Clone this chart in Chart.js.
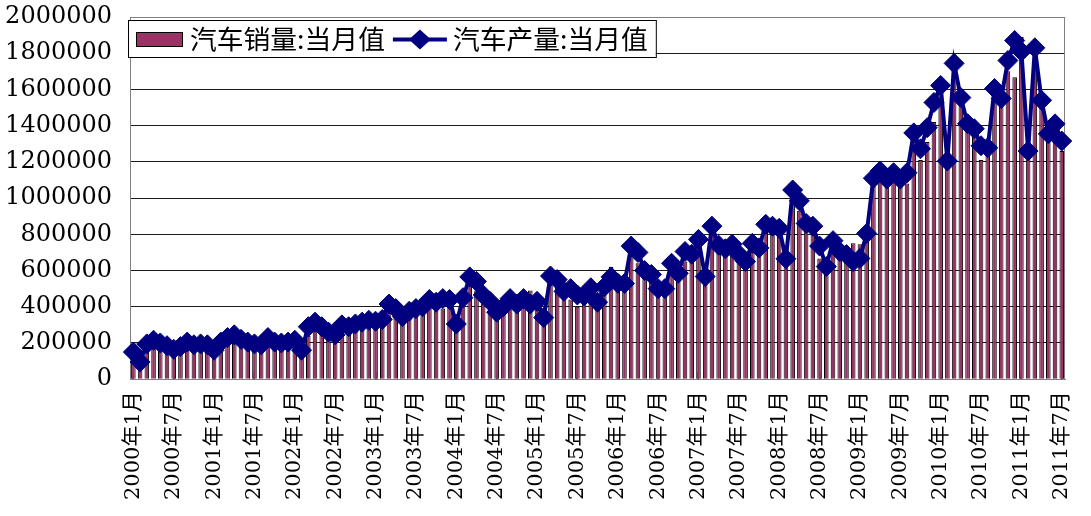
<!DOCTYPE html>
<html>
<head>
<meta charset="utf-8">
<script src="https://cdn.jsdelivr.net/npm/chart.js@4.4.0/dist/chart.umd.min.js"></script>
<style>
  html, body { margin: 0; padding: 0; background: #fff; }
  #wrap { width: 1091px; height: 516px; }
</style>
</head>
<body>
<div id="wrap"><canvas id="autoChart"></canvas></div>
<script>
// categories: monthly, 2000-01 .. 2011-07
const firstYear = 2000;
const lastYear = 2011;
const lastMonth = 7;
const months = [];
for (let y = firstYear; y <= lastYear; y++) {
    for (let m = 1; m <= 12; m++) {
        if (y === lastYear && m > lastMonth) break;
        months.push(y + "年" + m + "月");
    }
}

// 汽车销量:当月值 (bars), one row per year
const salesData = [
    120000, 95000, 170000, 180000, 175000, 160000, 140000, 150000, 175000, 165000, 160000, 175000,
    130000, 170000, 210000, 215000, 195000, 180000, 160000, 170000, 200000, 190000, 185000, 200000,
    190000, 160000, 240000, 270000, 250000, 230000, 215000, 250000, 260000, 265000, 270000, 300000,
    300000, 300000, 380000, 370000, 330000, 340000, 360000, 370000, 400000, 400000, 390000, 410000,
    350000, 420000, 520000, 490000, 430000, 400000, 360000, 360000, 400000, 390000, 420000, 490000,
    420000, 360000, 520000, 510000, 450000, 440000, 400000, 420000, 460000, 430000, 480000, 620000,
    540000, 500000, 680000, 640000, 600000, 560000, 500000, 490000, 600000, 580000, 650000, 700000,
    730000, 560000, 800000, 740000, 700000, 720000, 650000, 650000, 770000, 760000, 830000, 840000,
    850000, 690000, 960000, 930000, 830000, 840000, 667000, 640000, 760000, 720000, 680000, 750000,
    745000, 830000, 1110000, 1150000, 1120000, 1140000, 1080000, 1080000, 1330000, 1210000, 1310000, 1420000,
    1660000, 1300000, 1740000, 1550000, 1420000, 1350000, 1210000, 1300000, 1570000, 1530000, 1700000, 1667000,
    1890000, 1270000, 1740000, 1550000, 1370000, 1390000, 1260000
];

// 汽车产量:当月值 (line), one row per year
const prodData = [
    150000, 95000, 195000, 215000, 200000, 185000, 165000, 180000, 205000, 190000, 195000, 190000,
    160000, 205000, 230000, 245000, 220000, 205000, 195000, 190000, 230000, 205000, 200000, 205000,
    215000, 160000, 290000, 315000, 290000, 260000, 245000, 300000, 290000, 305000, 315000, 325000,
    320000, 330000, 415000, 390000, 345000, 375000, 390000, 400000, 440000, 425000, 445000, 440000,
    305000, 450000, 565000, 540000, 465000, 430000, 370000, 400000, 445000, 415000, 445000, 415000,
    430000, 340000, 570000, 550000, 485000, 500000, 465000, 460000, 505000, 425000, 510000, 565000,
    530000, 528000, 735000, 700000, 600000, 578000, 500000, 500000, 640000, 585000, 705000, 690000,
    772000, 567000, 845000, 740000, 720000, 745000, 690000, 650000, 750000, 725000, 855000, 845000,
    833000, 665000, 1045000, 985000, 860000, 845000, 735000, 622000, 765000, 705000, 688000, 650000,
    667000, 805000, 1110000, 1150000, 1105000, 1140000, 1105000, 1140000, 1360000, 1272000, 1389000, 1528000,
    1622000, 1205000, 1744000, 1555000, 1411000, 1383000, 1289000, 1278000, 1605000, 1550000, 1760000, 1870000,
    1810000, 1260000, 1830000, 1540000, 1355000, 1410000, 1315000
];

const yMax = 2000000;
const yStep = 200000;
const labelEvery = 6;

const salesLabel = "汽车销量:当月值";
const prodLabel = "汽车产量:当月值";

const tickFont = "'DejaVu Serif', 'Noto Sans CJK SC', serif";
const legendFont = "'Noto Sans CJK SC', sans-serif";

// gray frame round the plot area + small inward tick marks on the x axis
const frameBox = {
    id: "frameBox",
    beforeDatasetsDraw(chart) {
        const { ctx, chartArea: a } = chart;
        const xs = chart.scales.x;
        ctx.save();
        ctx.strokeStyle = "#808080";
        ctx.lineWidth = 1;
        ctx.strokeRect(Math.round(a.left) + 0.5, Math.round(a.top) + 0.5,
            Math.round(a.right - a.left) - 1, Math.round(a.bottom - a.top));
        ctx.strokeStyle = "#555";
        ctx.lineWidth = 2;
        ctx.beginPath();
        for (let i = 0; i < months.length; i += labelEvery) {
            const px = Math.round(xs.getPixelForValue(i));
            ctx.moveTo(px, a.bottom);
            ctx.lineTo(px, a.bottom - 7);
        }
        ctx.stroke();
        ctx.restore();
    }
};

// Excel style legend, boxed, sitting over the top of the plot
const boxLegend = {
    id: "boxLegend",
    afterDatasetsDraw(chart) {
        const { ctx, chartArea: a } = chart;
        const x = Math.round(a.left) - 2;
        const y = Math.round(a.top) + 3;
        const h = 37;
        const stretch = 1.03;
        ctx.save();
        ctx.font = "26px " + legendFont;
        const w1 = ctx.measureText(salesLabel).width * stretch;
        const w2 = ctx.measureText(prodLabel).width * stretch;
        const w = 62 + w1 + 8 + 54 + 6 + w2 + 8;

        ctx.fillStyle = "#fff";
        ctx.fillRect(x, y, w, h);
        ctx.strokeStyle = "#000";
        ctx.lineWidth = 1;
        ctx.strokeRect(x + 0.5, y + 0.5, w, h);

        // bar swatch
        ctx.fillStyle = "#993366";
        ctx.fillRect(x + 8, y + 12, 46, 14);
        ctx.strokeRect(x + 8.5, y + 12.5, 46, 14);

        const cy = y + h / 2 + 1;
        ctx.fillStyle = "#000";
        ctx.textBaseline = "middle";
        ctx.save();
        ctx.translate(x + 62, cy);
        ctx.scale(stretch, 1);
        ctx.fillText(salesLabel, 0, 0);
        ctx.restore();

        // line + diamond swatch
        const lx = x + 62 + w1 + 8;
        ctx.strokeStyle = "#000080";
        ctx.lineWidth = 4;
        ctx.beginPath();
        ctx.moveTo(lx, cy);
        ctx.lineTo(lx + 54, cy);
        ctx.stroke();
        ctx.fillStyle = "#000080";
        ctx.beginPath();
        ctx.moveTo(lx + 27, cy - 10);
        ctx.lineTo(lx + 38, cy);
        ctx.lineTo(lx + 27, cy + 10);
        ctx.lineTo(lx + 16, cy);
        ctx.closePath();
        ctx.fill();

        ctx.fillStyle = "#000";
        ctx.translate(lx + 60, cy);
        ctx.scale(stretch, 1);
        ctx.fillText(prodLabel, 0, 0);
        ctx.restore();
    }
};

const ctx = document.getElementById("autoChart").getContext("2d");
new Chart(ctx, {
    data: {
        labels: months,
        datasets: [
            {
                type: "line",
                label: prodLabel,
                data: prodData,
                borderColor: "#000080",
                backgroundColor: "#000080",
                borderWidth: 4,
                pointStyle: "rectRot",
                pointRadius: 10,
                pointBorderWidth: 1,
                pointBackgroundColor: "#000080",
                tension: 0,
                order: 0
            },
            {
                type: "bar",
                label: salesLabel,
                data: salesData,
                backgroundColor: "#993366",
                borderColor: "#000",
                borderWidth: 1,
                barPercentage: 0.68,
                categoryPercentage: 1,
                order: 1
            }
        ]
    },
    options: {
        responsive: true,
        maintainAspectRatio: false,
        animation: false,
        devicePixelRatio: 1,
        layout: { padding: { top: 17, right: 11, bottom: 12, left: 0 } },
        plugins: {
            legend: { display: false },
            tooltip: { enabled: false }
        },
        scales: {
            x: {
                offset: true,
                grid: { display: false },
                border: { color: "#808080" },
                ticks: {
                    autoSkip: false,
                    minRotation: 90,
                    maxRotation: 90,
                    padding: 4,
                    color: "#000",
                    font: { family: tickFont, size: 21 },
                    callback: function (v, i) {
                        return i % labelEvery === 0 ? this.getLabelForValue(v) : "";
                    }
                }
            },
            y: {
                min: 0,
                max: yMax,
                grid: { color: "#1a1a1a", drawTicks: false },
                border: { color: "#808080" },
                afterFit(axis) {
                    axis.width = 130;
                    axis.paddingTop = 0;
                    axis.paddingBottom = 0;
                },
                ticks: {
                    stepSize: yStep,
                    padding: 18,
                    color: "#000",
                    font: { family: tickFont, size: 24 },
                    callback: v => String(v)
                }
            }
        }
    },
    plugins: [frameBox, boxLegend]
});
</script>
</body>
</html>
